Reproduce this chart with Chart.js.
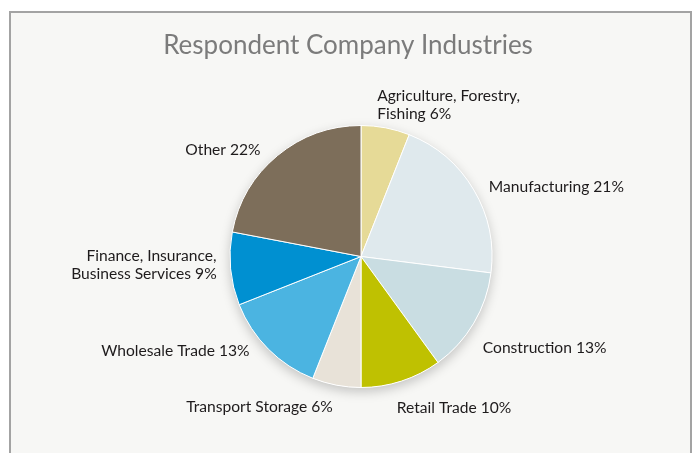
<!DOCTYPE html>
<html>
<head>
<meta charset="utf-8">
<script src="https://cdn.jsdelivr.net/npm/chart.js@4/dist/chart.umd.min.js"></script>
<style>
  html, body { margin: 0; padding: 0; background: #ffffff; }
  #wrap { position: relative; width: 696px; height: 453px; overflow: hidden; }
  #frame {
    position: absolute; left: 9px; top: 11px; width: 679px; height: 480px;
    border: 2px solid #a3a3a3; background: #f7f7f5;
  }
  #industryChart { position: absolute; left: 0; top: 0; }
</style>
</head>
<body>
<div id="wrap">
  <div id="frame"></div>
  <canvas id="industryChart" width="696" height="453"></canvas>
</div>
<script>
// Industry breakdown of respondent companies (percent)
const industries = [
  ["Agriculture, Forestry,", "Fishing"],
  ["Manufacturing"],
  ["Construction"],
  ["Retail Trade"],
  ["Transport Storage"],
  ["Wholesale Trade"],
  ["Finance, Insurance,", "Business Services"],
  ["Other"]
];
const shares = [6, 21, 13, 10, 6, 13, 9, 22];
const sliceColors = [
  "#e6da97", "#dfe9ed", "#c9dde2", "#bfc101",
  "#e8e2d8", "#4bb4e1", "#0090d1", "#7d6e5a"
];
// small hand tweaks for each label, relative to its spot beside the slice
const labelNudge = [
  [-11, 9], [3, 9], [-3, 13], [-9, 5],
  [-1, -1], [-9, -15], [0, -7], [-8, 12]
];

const chartTitle = "Respondent Company Industries";
const labelFont = "15.6px Lato";
const lineHeight = 18.5;

// soft shadow under the whole pie, drawn before the slices
const pieShadow = {
  id: "pieShadow",
  beforeDatasetsDraw(chart) {
    const arc = chart.getDatasetMeta(0).data[0];
    if (!arc) return;
    const ctx = chart.ctx;
    ctx.save();
    ctx.shadowColor = "rgba(0, 0, 0, 0.22)";
    ctx.shadowBlur = 12;
    ctx.shadowOffsetY = 4;
    ctx.fillStyle = "#ffffff";
    ctx.beginPath();
    ctx.arc(arc.x, arc.y, arc.outerRadius, 0, Math.PI * 2);
    ctx.fill();
    ctx.restore();
  }
};

// title and outside labels
const outsideLabels = {
  id: "outsideLabels",
  afterDraw(chart) {
    const ctx = chart.ctx;
    ctx.save();
    ctx.fillStyle = "#7b7b7b";
    ctx.font = "26px Lato";
    ctx.textAlign = "center";
    ctx.textBaseline = "middle";
    ctx.fillText(chartTitle, 348, 46);

    ctx.font = labelFont;
    ctx.fillStyle = "#1e1b1c";
    const meta = chart.getDatasetMeta(0);
    meta.data.forEach((arc, i) => {
      const mid = (arc.startAngle + arc.endAngle) / 2;
      const r = arc.outerRadius + 14;
      const dx = Math.cos(mid), dy = Math.sin(mid);
      const lines = industries[i].slice();
      lines[lines.length - 1] += " " + shares[i] + "%";
      const h = lines.length * lineHeight;
      const px = arc.x + r * dx + labelNudge[i][0];
      const cy = arc.y + r * dy + dy * h / 2 + labelNudge[i][1];
      ctx.textAlign = dx >= 0 ? "left" : "right";
      lines.forEach((line, j) => {
        ctx.fillText(line, px, cy - h / 2 + lineHeight * (j + 0.5));
      });
    });
    ctx.restore();
  }
};

const ctx = document.getElementById("industryChart").getContext("2d");
new Chart(ctx, {
  type: "pie",
  data: {
    labels: industries.map((l) => l.join(" ")),
    datasets: [
      {
        data: shares,
        backgroundColor: sliceColors,
        borderColor: "#ffffff",
        borderWidth: 1
      }
    ]
  },
  options: {
    responsive: false,
    animation: false,
    layout: { padding: { left: 229.5, right: 203.5, top: 125, bottom: 65 } },
    plugins: {
      legend: { display: false },
      tooltip: { enabled: false }
    }
  },
  plugins: [pieShadow, outsideLabels]
});
</script>
</body>
</html>
